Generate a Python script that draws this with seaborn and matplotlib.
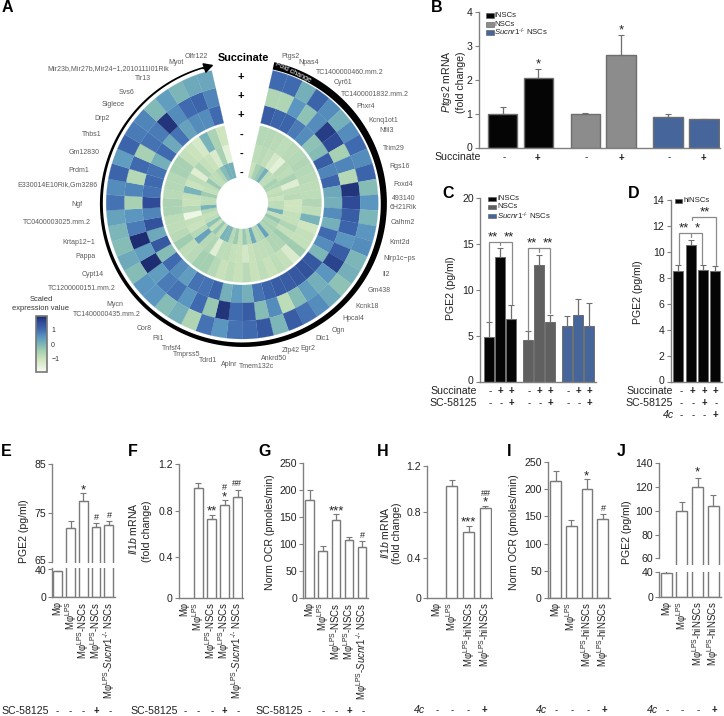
import numpy as np
import pandas as pd
import matplotlib
matplotlib.use("Agg")
import matplotlib.pyplot as plt
from matplotlib.colors import LinearSegmentedColormap, Normalize
from matplotlib.cm import ScalarMappable
from matplotlib.patches import Rectangle
from matplotlib.transforms import ScaledTranslation
import seaborn as sns

# ---------- data ----------
genes = ["Ptgs2","Npas4","TC1400000460.mm.2","Cyr61","TC1400001832.mm.2","Phxr4","Kcnq1ot1","Nfil3","Trim29","Rgs16",
         "Foxd4","493140\n6H21Rik","Calhm2","Kmt2d","Nlrp1c\u2212ps","Il2","Gm438","Kcnk18","Hpcal4","Ogn",
         "Dlc1","Egr2","Zfp42","Ankrd50","Tmem132c","Aplnr","Tdrd1","Tmprss5","Tnfsf4","Fli1",
         "Cor8","Mycn","TC1400000435.mm.2","TC1200000151.mm.2","Cypt14","Pappa","Krtap12\u22121","TC0400003025.mm.2","Ngf","E330014E10Rik,Gm3286",
         "Prdm1","Gm12830","Thbs1","Drp2","Siglece","Svs6","Tlr13","Mir23b,Mir27b,Mir24\u22121,2010111I01Rik","Myot","Olfr122"]

ring1 = [1.0,1.0,0.1,1.1,0.6,0.1,0.6,1.0,0.6,1.1,-0.1,0.5,0.0,0.5,0.6,0.0,0.1,-0.2,0.2,0.6,
         0.9,1.2,0.0,1.3,1.0,0.9,0.5,0.9,-0.6,0.1,-0.1,0.5,0.5,-0.1,0.2,-0.1,0.0,0.3,0.9,0.6,
         1.1,0.4,1.1,0.8,0.7,-0.05,0.4,0.0,0.2,0.25]
ring2 = [-0.6,-0.6,0.5,-0.2,0.6,1.7,1.5,-0.5,0.7,-0.7,1.8,1.5,1.2,1.1,0.5,1.2,1.6,0.5,0.1,0.4,
         -0.1,-0.8,0.6,-0.1,1.2,1.0,1.8,-0.3,1.0,0.5,0.9,0.8,0.4,1.9,0.4,1.9,0.8,0.5,-0.5,0.7,
         -0.7,1.0,-0.5,0.9,0.8,1.8,0.6,1.0,1.1,0.7]
ring3 = [1.2,1.1,1.1,0.8,0.6,-0.2,-0.1,1.2,0.7,1.1,0.2,0.1,0.6,0.1,1.0,0.6,0.0,1.3,1.4,1.3,
         1.2,1.2,1.1,0.9,0.1,0.4,0.1,1.1,0.9,0.9,0.4,0.6,1.0,-0.1,1.3,0.2,1.4,0.7,1.5,0.9,
         1.0,0.9,0.1,1.0,0.2,0.9,0.3,0.6,0.6,1.0]
ring4 = [-0.7,-0.7,-0.75,-0.8,-0.75,-0.7,-0.65,-0.7,-0.75,-0.8,-0.8,-0.65,-0.85,0.05,-1.05,-0.9,-0.9,-0.4,-1.3,-0.9,
         -0.8,-0.95,-0.8,-0.95,-0.75,-0.95,-0.8,-0.95,-0.7,-0.45,-0.45,-0.75,-0.8,-0.4,-0.75,-0.85,-0.8,-0.55,-0.55,-0.75,
         -0.7,-0.7,-0.5,-0.5,-0.9,-1.0,-1.2,0.05,-0.55,-1.05]
ring5 = [-0.8,-0.75,-0.85,-1.2,-1.5,-0.75,-0.8,-0.55,-1.4,-0.85,-0.75,-1.05,-1.05,-0.9,-0.9,-0.6,-0.9,-0.4,-0.6,-0.6,
         -0.8,-0.85,-0.85,-0.95,-1.15,-0.95,-0.9,-0.8,-0.8,-1.4,-0.6,-0.7,0.3,-0.7,-1.0,-0.9,-1.7,-0.7,-0.95,-0.9,
         0.05,-1.0,-0.8,-1.4,-0.6,-0.9,-1.0,-1.3,-0.5,-1.5]
ring6 = [-1.0,-0.5,-0.3,0.1,-0.8,-0.8,-0.5,-0.6,-0.9,-0.8,-1.0,-0.8,-0.8,0.1,-0.9,-0.3,-0.6,-0.5,-0.6,0.3,
         -0.6,-0.7,0.2,-0.7,-0.3,-0.9,-0.35,-0.7,0.0,0.05,-0.8,-0.3,-0.9,-0.2,-0.8,-0.9,-0.7,0.05,-0.8,-0.8,
         -0.4,-0.9,-0.8,-0.3,-0.8,-0.8,-0.6,-0.1,0.1,0.1]
succinate_marks = ["+","+","+","-","-","-"]

b_vals = [1.02,2.07,1.0,2.73,0.93,0.85]
b_errs = [0.18,0.25,0.04,0.6,0.08,0.01]
c_vals = [4.85,13.6,6.85,4.55,12.7,6.5,6.1,7.3,6.1]
c_errs = [1.65,0.9,1.45,0.95,1.1,0.8,1.0,1.7,2.5]
d_vals = [8.5,10.55,8.6,8.5]
d_errs = [0.5,0.35,0.4,0.45]
e_vals = [36.7,72.0,77.4,72.1,72.6]
e_errs = [0.3,1.4,1.7,0.9,0.8]
f_vals = [0,1.0,0.73,0.85,0.92]
f_errs = [0,0.035,0.03,0.045,0.06]
g_vals = [181,86.4,144.4,106.8,94.4]
g_errs = [20,9.3,12.4,7.2,10.6]
h_vals = [0,1.02,0.63,0.83]
h_errs = [0,0.052,0.045,0.025]
i_vals = [215.5,132.4,200.7,144.7]
i_errs = [18.5,11.1,17.9,10.3]
j_vals = [38.4,99.9,119.8,103.8]
j_errs = [3.2,7.5,7.6,9.2]

SUP = "$^{\\mathrm{LPS}}$"
KO = "$\\mathit{Sucnr1}^{\\text{-/-}}$"
nsc_labels = ["M\u03c6", "M\u03c6"+SUP, "M\u03c6"+SUP+"-NSCs", "M\u03c6"+SUP+"-NSCs", "M\u03c6"+SUP+"-"+KO+" NSCs"]
hi_labels = ["M\u03c6", "M\u03c6"+SUP, "M\u03c6"+SUP+"-hiNSCs", "M\u03c6"+SUP+"-hiNSCs"]
sc_marks5 = ["-","-","-","+","-"]
c4_marks4 = ["-","-","-","+"]

# ---------- theme ----------
sns.set_style("ticks")
plt.rcParams["font.family"] = ["Liberation Sans", "DejaVu Sans"]
plt.rcParams["mathtext.fontset"] = "custom"
plt.rcParams["mathtext.rm"] = "Liberation Sans"
plt.rcParams["mathtext.it"] = "Liberation Sans:italic"
plt.rcParams["mathtext.bf"] = "Liberation Sans:bold"
plt.rcParams["mathtext.default"] = "regular"

W, H = 724, 716
fig = plt.figure(figsize=(W/100, H/100), dpi=100, facecolor="white")

def make_ax(x0, x1, ytop, ybot, **kw):
    return fig.add_axes([x0/W, 1-ybot/H, (x1-x0)/W, (ybot-ytop)/H], **kw)

ov = fig.add_axes([0, 0, 1, 1], zorder=20)
ov.set_xlim(0, W); ov.set_ylim(H, 0); ov.axis("off"); ov.patch.set_alpha(0)

TXT = "#222222"
FS = 7.6
XFS = 6.9
def T(x, y, s, size=FS, ha="center", va="center", color=TXT, **kw):
    ov.text(x, y, s, fontsize=size, ha=ha, va=va, color=color, **kw)

GR = "#808080"

def style(ax, xlim, ylim, ticks, ticklabels=None, bottom=True, bounds=None, lc=GR):
    ax.set_xlim(*xlim); ax.set_ylim(*ylim)
    ax.set_xlabel(""); ax.set_ylabel("")
    ax.patch.set_alpha(0)
    for s in ["top", "right"]:
        ax.spines[s].set_visible(False)
    ax.spines["left"].set_color(lc); ax.spines["left"].set_linewidth(1.0)
    ax.spines["bottom"].set_color(GR); ax.spines["bottom"].set_linewidth(1.0)
    ax.spines["bottom"].set_visible(bottom)
    if bounds:
        ax.spines["left"].set_bounds(*bounds)
    ax.set_yticks(ticks)
    if ticklabels is not None:
        ax.set_yticklabels(ticklabels)
    ax.tick_params(axis="y", length=3, width=0.8, color=lc, labelsize=FS, labelcolor=TXT, pad=1.5)
    ax.tick_params(axis="x", length=0, labelsize=XFS, labelcolor=TXT, pad=3)
    ax.set_xticks([])
    ax.minorticks_off()

def nudge_tick(ax, index, px):
    lab = ax.get_yticklabels()[index]
    lab.set_transform(lab.get_transform() + ScaledTranslation(0, px*0.72/72, fig.dpi_scale_trans))

def bars(ax, pos, vals, errs, colors, w, edge, ecolor=None, lw=1.0):
    df = pd.DataFrame({"x": pos, "y": vals, "g": [f"b{i}" for i in range(len(pos))]})
    width = w / np.min(np.diff(sorted(pos)))
    sns.barplot(data=df, x="x", y="y", hue="g", palette=list(colors), dodge=False, native_scale=True,
                width=width, errorbar=None, saturation=1, legend=False, ax=ax,
                edgecolor=edge, linewidth=lw)
    ax.errorbar(pos, vals, yerr=[np.zeros(len(vals)), errs], fmt="none",
                ecolor=ecolor or edge, elinewidth=0.9, capsize=2.3, capthick=0.8)

def xlabels(ax, pos, labels):
    ax.set_xticks(pos)
    ax.set_xticklabels(labels, rotation=90, ha="center", va="top", fontsize=XFS, color=TXT)

def marks(xs, y, seq):
    for x, m in zip(xs, seq):
        T(x, y, m, size=7, fontweight="bold" if m == "+" else "normal")

def legend(x, ys, w, h, names, colors, tx, size=5.6):
    for y, n, c in zip(ys, names, colors):
        ov.add_patch(Rectangle((x, y-h/2), w, h, fc=c, ec="#555555", lw=0.4))
        T(tx, y, n, size=size, ha="left")

def bracket(x0, x1, y, yl, yr, xm=None, ym=None):
    ov.plot([x0, x0, x1, x1], [yl, y, y, yr], color="#8a8a8a", lw=0.9, solid_joinstyle="miter")
    if xm is not None:
        ov.plot([xm, xm], [y, ym], color="#8a8a8a", lw=0.9)

STAR = 9.5
def star(x, y, s):
    T(x, y+2, s, size=STAR, color="#222222")

# ---------- panel letters ----------
for s, x, y in [("A",7,8),("B",437,7),("C",448,193),("D",634,194),("E",6,451),("F",133,451),
                ("G",265,451),("H",383,451),("I",509,452),("J",621,451)]:
    T(x, y, s, size=11.5, fontweight="bold", color="black")

# ---------- panel A ----------
cx, cy, R = 242.2, 203.0, 150
pol = make_ax(cx-R, cx+R, cy-R, cy+R, projection="polar")
pol.set_theta_zero_location("N"); pol.set_theta_direction(-1)
anchors = [(-1.9,"#f8fbf0"),(-1.0,"#cbe3bc"),(-0.4,"#a0cdb0"),(0.0,"#7cb6b8"),(0.5,"#5a96c0"),
           (1.0,"#3f6aaf"),(1.5,"#2f4c98"),(1.93,"#1d2a6e")]
vmin, vmax = anchors[0][0], anchors[-1][0]
hm = LinearSegmentedColormap.from_list("heat", [((v-vmin)/(vmax-vmin), c) for v, c in anchors])
norm = Normalize(vmin, vmax)
n = len(genes)
dth = np.deg2rad(6.68)
thc = np.deg2rad(13) + dth*(np.arange(n)+0.5)
ring_edges = [(26,42),(42,60),(60,79.3),(82,100),(100,118),(118,136)]
for vals, (r0, r1) in zip([ring6,ring5,ring4,ring3,ring2,ring1], ring_edges):
    cols = hm(norm(np.array(vals)))
    pol.bar(thc, r1-r0, width=dth, bottom=r0, color=cols, edgecolor=cols, linewidth=0.15)
ta = np.deg2rad(np.linspace(12.6, 344, 300))
rout = np.linspace(144.8, 142.2, 300)
thick = np.linspace(7.5, 1.6, 300)
pol.fill_between(ta, rout-thick, rout, color="black", lw=0)
pol.set_rlim(0, R)
pol.axis("off")
ov.annotate("", xy=(213.5, 65), xytext=(203, 68.5),
            arrowprops=dict(arrowstyle="-|>,head_length=0.55,head_width=0.3", color="black", lw=1.2, shrinkA=0, shrinkB=0))
T(293, 72.5, "Fold change", size=5, color="white", rotation=-26)

gene_xy = [(290,56),(309,63),(350,73),(343,83),(375,94),(366,107),(383,120),(387,131),(394,148),(400,166),
           (403,185),(403.5,203),(403,223),(400,242),(399,258),(386,274),(379,290),(367,306),(353,319),(338,330),
           (322,338),(308,348),(291,351),(274,358),(257,366),(229,364),(208,360),(187,355),(172,348),(158,339),
           (144,329),(115,304),(107,315),(82,289),(93,275),(86,257),(79,242),(57,223),(77,204),(57,185),
           (79,170),(84,152),(92,134),(102,118),(113,105),(127,92),(143,79),(108,69),(176,62),(196,57)]
for g, (x, y) in zip(genes, gene_xy):
    T(x, y, g, size=5, color="#5a5a5a", linespacing=1.25)

T(243, 58, "Succinate", size=7.8, fontweight="bold", color="black")
for y, m in zip([77,96,115,135,154,173], succinate_marks):
    T(241, y, m, size=8, fontweight="bold", color="black")

T(41, 299.5, "Scaled", size=5.4, color="#333333")
T(41, 308.5, "expression value", size=5.4, color="#333333")
cax = make_ax(36, 47, 316, 372)
cb = fig.colorbar(ScalarMappable(norm=norm, cmap=hm), cax=cax)
cb.set_ticks([-1, 0, 1]); cb.set_ticklabels(["\u22121", "0", "1"])
cb.ax.tick_params(length=0, labelsize=5, pad=3, labelcolor="#333333")
cb.outline.set_edgecolor("#777777"); cb.outline.set_linewidth(1.2)

# ---------- panel B ----------
BK, G1, G2, BL = "#050505", "#8c8c8c", "#606060", "#46669b"
ax = make_ax(478.5, 720, 12.3, 148.3)
bpos = [502.5, 538.4, 585.4, 620.9, 668, 704]
bars(ax, bpos, b_vals, b_errs, [BK,BK,G1,G1,BL,BL], 29.5, "#6e6e6e")
style(ax, (478.5, 720), (0, 4), [0,1,2,3,4])
nudge_tick(ax, 0, 1.5)
T(447, 82, "$\\mathit{Ptgs2}$ mRNA", rotation=90)
T(461, 82, "(fold change)", rotation=90)
legend(486, [15.7,24,32.7], 7.5, 5, ["iNSCs","NSCs",KO+" NSCs"], [BK,G1,BL], 494.5)
T(480.7, 157.5, "Succinate", ha="right")
marks([504.3,537.7,585.7,621.7,669,703.3], 157.5, ["-","+","-","+","-","+"])
star(538, 62, "*"); star(621, 28, "*")

# ---------- panel C ----------
ax = make_ax(480, 596, 197.7, 381.7)
cpos = [489.3,500.3,511.3,528.3,539.3,550,567,578,589]
bars(ax, cpos, c_vals, c_errs, [BK]*3+[G2]*3+[BL]*3, 10, "#6e6e6e", lw=0.7)
style(ax, (480, 596), (0, 20), [0,5,10,15,20])
nudge_tick(ax, 0, 2)
T(451, 288, "PGE2 (pg/ml)", rotation=90)
legend(488.3, [199,207,216], 7.7, 4.5, ["iNSCs","NSCs",KO+" NSCs"], [BK,G2,BL], 497)
T(477, 391, "Succinate", ha="right"); T(477, 403, "SC-58125", ha="right")
cx9 = [489.7,500.7,511.3,529,539.7,550.3,567.7,578.7,589.7]
marks(cx9, 391, ["-","+","+"]*3); marks(cx9, 403, ["-","-","+"]*3)
bracket(489, 511.7, 241.7, 322, 304, 500.3, 245)
bracket(527.7, 550, 248.3, 331, 313, 539, 252)
star(493, 235, "**"); star(509, 235, "**"); star(531.7, 241.5, "**"); star(547.7, 241.5, "**")

# ---------- panel D ----------
ax = make_ax(670.7, 722, 200, 381.7)
dpos = [678.3,690.7,702.7,715]
bars(ax, dpos, d_vals, d_errs, [BK]*4, 10, "#6e6e6e", lw=0.7)
style(ax, (670.7, 722), (0, 14), [0,2,4,6,8,10,12,14])
nudge_tick(ax, 0, 2)
T(638, 292, "PGE2 (pg/ml)", rotation=90)
legend(674.5, [201,], 7.5, 4.5, ["hiNSCs"], [BK], 683.5)
T(673, 391, "Succinate", ha="right"); T(673, 403, "SC-58125", ha="right")
T(674, 415, "4c", ha="right", style="italic")
dx4 = [680.7,692.7,704.3,715.7]
marks(dx4, 391, ["-","+","+","+"]); marks(dx4, 403, ["-","-","+","-"]); marks(dx4, 415, ["-","-","-","+"])
bracket(679.3, 702.3, 232.7, 264, 264, 690.7, 236.7)
bracket(691.7, 716.3, 216.7, 220, 265)
star(684.3, 226, "**"); star(697.7, 226, "*"); star(705.3, 210, "**")

WHITE = "white"
# ---------- panel E ----------
epos = [57.7,70.7,83.3,96,108.7]
x_e = (52.3, 115)
up = make_ax(*x_e, 464, 563.3)
bars(up, epos, e_vals, e_errs, [WHITE]*5, 8.8, "#7a7a7a")
style(up, x_e, (85-(563.3-464)/4.885, 85), [65,75,85], bottom=False, bounds=(65,85))
nudge_tick(up, 0, 2)
lo = make_ax(*x_e, 568, 597.3)
bars(lo, epos, e_vals, e_errs, [WHITE]*5, 8.8, "#7a7a7a")
style(lo, x_e, (0, 41.4), [0,40], bounds=(0,41))
nudge_tick(lo, 1, -1.5)
xlabels(lo, epos, nsc_labels)
T(24, 531, "PGE2 (pg/ml)", rotation=90)
T(48.5, 710.7, "SC-58125", ha="right")
marks([56.7,70,83.3,96.7,110], 710.7, sc_marks5)
star(83.3, 488, "*"); T(96.7, 517.5, "#", size=6.5); T(109, 515, "#", size=6.5)

# ---------- panel F ----------
fpos = [184.7,198,211.5,224.5,237.5]
x_f = (179, 243)
ax = make_ax(*x_f, 464.3, 597.7)
bars(ax, fpos, f_vals, f_errs, [WHITE]*5, 9, "#7a7a7a")
f_low = 0.4 - (597.7-557.3)/116.25
style(ax, x_f, (f_low, 1.2), [f_low,0.4,0.8,1.2], ["0","0.4","0.8","1.2"])
xlabels(ax, fpos, nsc_labels)
T(133, 529, "$\\mathit{Il1b}$ mRNA", rotation=90)
T(147, 531, "(fold change)", rotation=90)
T(177.7, 710.7, "SC-58125", ha="right")
marks([185,198,211.7,224.3,237.7], 710.7, sc_marks5)
star(211.7, 509, "**"); star(224, 495, "*"); T(224, 487.5, "#", size=6.5); T(237.3, 483.5, "##", size=6.5)

# ---------- panel G ----------
gpos = [309.7,322.8,336,349,362]
x_g = (303.3, 368)
ax = make_ax(*x_g, 463.3, 598)
bars(ax, gpos, g_vals, g_errs, [WHITE]*5, 8.8, "#7a7a7a")
style(ax, x_g, (0, 250), [0,50,100,150,200,250])
xlabels(ax, gpos, nsc_labels)
T(270, 532, "Norm OCR (pmoles/min)", rotation=90)
T(303.3, 710.7, "SC-58125", ha="right")
marks([309.3,322.7,336,349.3,362.7], 710.7, sc_marks5)
star(336.5, 509, "***"); T(362.3, 535, "#", size=6.5)

# ---------- panel H ----------
hpos = [436,451.8,468.8,485.2]
x_h = (427.3, 492)
ax = make_ax(*x_h, 465.7, 598.3)
bars(ax, hpos, h_vals, h_errs, [WHITE]*4, 11, "#7a7a7a")
h_low = 0.4 - (598.3-558.3)/115
style(ax, x_h, (h_low, 1.2), [h_low,0.4,0.8,1.2], ["0","0.4","0.8","1.2"])
xlabels(ax, hpos, hi_labels)
T(385, 533, "$\\mathit{Il1b}$ mRNA", rotation=90)
T(397, 533, "(fold change)", rotation=90)
T(425, 710, "4c", ha="right", style="italic")
marks([436.7,452.3,468.3,484.3], 710, c4_marks4)
star(468.3, 520, "***"); star(485, 500, "*"); T(485.7, 494, "##", size=6.5)

# ---------- panel I ----------
ipos = [555.7,571.3,587,602.7]
x_i = (548, 610)
ax = make_ax(*x_i, 462.3, 597.7)
bars(ax, ipos, i_vals, i_errs, [WHITE]*4, 10.7, "#7a7a7a")
style(ax, x_i, (0, 250), [0,50,100,150,200,250])
xlabels(ax, ipos, hi_labels)
T(514, 532, "Norm OCR (pmoles/min)", rotation=90)
T(547.3, 710, "4c", ha="right", style="italic")
marks([555.7,571.7,588,604], 710, c4_marks4)
star(586.3, 474.5, "*"); T(603.3, 508.7, "#", size=6.5)

# ---------- panel J ----------
jpos = [666.3,681.8,697.7,713.5]
x_j = (659.3, 721)
up = make_ax(*x_j, 463.3, 565)
bars(up, jpos, j_vals, j_errs, [WHITE]*4, 10.8, "#7a7a7a")
style(up, x_j, (140-(565-463.3)/1.1875, 140), [60,80,100,120,140], bottom=False, bounds=(60,140))
lo = make_ax(*x_j, 571.7, 597.3)
bars(lo, jpos, j_vals, j_errs, [WHITE]*4, 10.8, "#7a7a7a")
style(lo, x_j, (0, 41), [0,40], bounds=(0,40))
xlabels(lo, jpos, hi_labels)
T(627, 532, "PGE2 (pg/ml)", rotation=90)
T(658.3, 710, "4c", ha="right", style="italic")
marks([666.7,682.3,698.3,714.7], 710, c4_marks4)
star(697.7, 470, "*")

fig.savefig("out.png", dpi=100, facecolor="white")
